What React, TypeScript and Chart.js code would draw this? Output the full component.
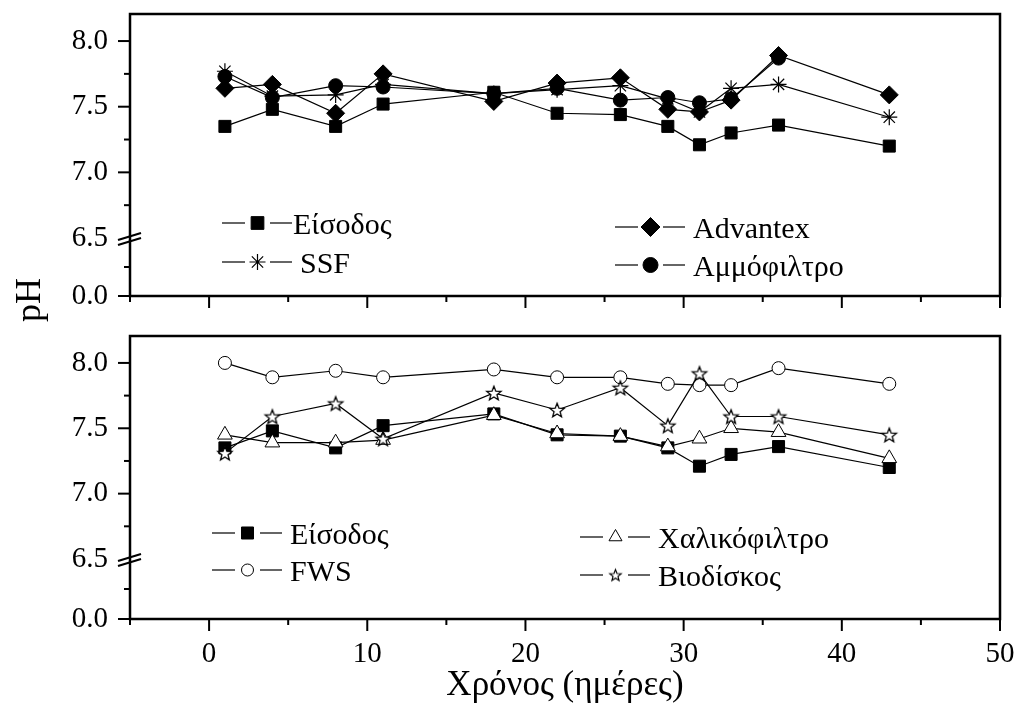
import React, { useEffect, useRef } from 'react';
import { Chart, registerables } from 'chart.js';
import { drawPoint } from 'chart.js/helpers';
Chart.register(...registerables);

// ---------- data ----------
const days = [1, 4, 8, 11, 18, 22, 26, 29, 31, 33, 36, 43];
const eisodos = [7.35, 7.48, 7.35, 7.52, 7.61, 7.45, 7.44, 7.35, 7.21, 7.3, 7.36, 7.2];
const advantex = [7.64, 7.67, 7.45, 7.75, 7.54, 7.68, 7.72, 7.48, 7.46, 7.55, 7.89, 7.59];
const ssf = [7.77, 7.58, 7.59, 7.67, 7.6, 7.63, 7.66, 7.56, 7.46, 7.64, 7.67, 7.42];
const ammofiltro = [7.73, 7.57, 7.66, 7.65, 7.6, 7.64, 7.55, 7.57, 7.53, 7.56, 7.87];
const fws = [8.0, 7.89, 7.94, 7.89, 7.95, 7.89, 7.89, 7.84, 7.83, 7.83, 7.96, 7.84];
const chalikofiltro = [7.45, 7.39, 7.39, 7.41, 7.6, 7.46, 7.44, 7.36, 7.42, 7.5, 7.47, 7.27];
const viodiskos = [7.31, 7.59, 7.69, 7.42, 7.77, 7.64, 7.81, 7.52, 7.92, 7.59, 7.59, 7.45];

const xMajorTicks = [0, 10, 20, 30, 40, 50];
const xMinorTicks = [-5, 5, 15, 25, 35, 45];
const yUpperLabelTicks = [6.5, 7.0, 7.5, 8.0];
const yUpperMinorTicks = [6.75, 7.25, 7.75];
const yLowerLabelTicks = [0.0];
const yLowerMinorTicks = [3.25];
const xMin = -5;
const xMax = 50;
const yBreak = 6.5;
const yTop = 8.206;
const xTitle = 'Χρόνος (ημέρες)';
const yTitle = 'pH';

const FONT = '"Liberation Serif", "Times New Roman", Times, serif';

function makeStar(outer: number, inner: number, lw: number) {
  const size = Math.ceil(outer * 2 + lw * 2 + 2);
  const c = document.createElement('canvas');
  c.width = size;
  c.height = size;
  const ctx = c.getContext('2d')!;
  const cx = size / 2;
  const cy = size / 2 + outer * 0.1;
  ctx.beginPath();
  for (let i = 0; i < 10; i++) {
    const r = i % 2 === 0 ? outer : inner;
    const a = -Math.PI / 2 + (i * Math.PI) / 5;
    const px = cx + r * Math.cos(a);
    const py = cy + r * Math.sin(a);
    if (i === 0) ctx.moveTo(px, py);
    else ctx.lineTo(px, py);
  }
  ctx.closePath();
  ctx.fillStyle = '#fff';
  ctx.fill();
  ctx.lineWidth = lw;
  ctx.strokeStyle = '#000';
  ctx.stroke();
  return c;
}

type SeriesCfg = {
  label: string;
  values: number[];
  style: any;
  radius: number;
  fill: string;
  bw: number;
  order: number;
  legendStyle: any;
  legendRadius: number;
  lx: number;
  ly: number;
  textGap: number;
};

type PanelCfg = {
  top: number;
  height: number;
  padTop: number;
  xHeight: number;
  upperWeight: number;
  lowerWeight: number;
  showX: boolean;
  series: SeriesCfg[];
};

function framePlugin(cfg: PanelCfg) {
  return {
    id: 'frameAndLegend',
    afterDatasetsDraw(chart: any) {
      const ctx = chart.ctx as CanvasRenderingContext2D;
      const a = chart.chartArea;
      const yU = chart.scales.y;
      const yL = chart.scales.yLow;
      const xs = chart.scales.x;
      ctx.save();
      ctx.strokeStyle = '#000';
      ctx.lineCap = 'butt';
      const line = (x1: number, y1: number, x2: number, y2: number) => {
        ctx.beginPath();
        ctx.moveTo(x1, y1);
        ctx.lineTo(x2, y2);
        ctx.stroke();
      };
      ctx.lineWidth = 2;
      yUpperLabelTicks.forEach((v) => {
        if (v === yBreak) return;
        const p = yU.getPixelForValue(v);
        line(a.left - 12, p, a.left, p);
      });
      yUpperMinorTicks.forEach((v) => {
        const p = yU.getPixelForValue(v);
        line(a.left - 6, p, a.left, p);
      });
      yLowerLabelTicks.forEach((v) => {
        const p = yL.getPixelForValue(v);
        line(a.left - 12, p, a.left, p);
      });
      yLowerMinorTicks.forEach((v) => {
        const p = yL.getPixelForValue(v);
        line(a.left - 6, p, a.left, p);
      });
      xMajorTicks.forEach((v) => {
        const p = xs.getPixelForValue(v);
        line(p, a.bottom, p, a.bottom + 12);
      });
      xMinorTicks.forEach((v) => {
        const p = xs.getPixelForValue(v);
        line(p, a.bottom, p, a.bottom + 6);
      });
      ctx.lineWidth = 2.5;
      ctx.strokeRect(a.left, a.top, a.right - a.left, a.bottom - a.top);
      // axis break marks
      const pb = yU.getPixelForValue(yBreak);
      ctx.lineWidth = 2.2;
      line(a.left - 12, pb + 2, a.left + 11, pb - 5);
      line(a.left - 12, pb + 7, a.left + 11, pb);

      // legend
      cfg.series.forEach((s) => {
        const y = s.ly - cfg.top;
        const x0 = s.lx;
        ctx.strokeStyle = '#000';
        ctx.lineWidth = 1.2;
        line(x0, y, x0 + 23, y);
        line(x0 + 48, y, x0 + 70, y);
        ctx.fillStyle = s.fill;
        ctx.strokeStyle = '#000';
        ctx.lineWidth = s.bw;
        drawPoint(ctx, { pointStyle: s.legendStyle, radius: s.legendRadius, rotation: 0, borderWidth: s.bw } as any, x0 + 35.5, y);
        ctx.fillStyle = '#000';
        ctx.font = `30px ${FONT}`;
        ctx.textBaseline = 'alphabetic';
        ctx.textAlign = 'left';
        ctx.fillText(s.label, x0 + s.textGap, y + 10.5);
      });
      ctx.restore();
    },
  };
}

function Panel({ cfg }: { cfg: PanelCfg }) {
  const ref = useRef<HTMLCanvasElement | null>(null);
  useEffect(() => {
    if (!ref.current) return;
    const datasets = cfg.series.map((s) => ({
      label: s.label,
      data: s.values.map((v, i) => ({ x: days[i], y: v })),
      yAxisID: 'y',
      borderColor: '#000',
      borderWidth: 1.2,
      pointStyle: s.style,
      pointRadius: s.radius,
      pointHoverRadius: s.radius,
      pointBackgroundColor: s.fill,
      pointBorderColor: '#000',
      pointBorderWidth: s.bw,
      tension: 0,
      fill: false,
      order: s.order,
    }));
    const yFont = { family: FONT, size: 29 };
    const noPadY = (s: any) => {
      s.width = 130;
      s.paddingTop = 0;
      s.paddingBottom = 0;
    };
    const chart = new Chart(ref.current, {
      type: 'line',
      data: { datasets },
      plugins: [framePlugin(cfg)],
      options: {
        animation: false,
        responsive: false,
        events: [],
        layout: { padding: { top: cfg.padTop, right: 17, left: 0, bottom: 0 } },
        plugins: { legend: { display: false }, tooltip: { enabled: false } },
        scales: {
          x: {
            type: 'linear',
            min: xMin,
            max: xMax,
            afterBuildTicks: (s: any) => {
              s.ticks = xMajorTicks.map((v) => ({ value: v }));
            },
            afterFit: (s: any) => {
              s.height = cfg.xHeight;
              s.paddingLeft = 0;
              s.paddingRight = 0;
            },
            grid: { display: false, drawTicks: false },
            border: { display: false },
            ticks: {
              display: cfg.showX,
              color: '#000',
              font: yFont,
              padding: 18,
              maxRotation: 0,
              callback: (v: any) => String(v),
            },
            title: {
              display: cfg.showX,
              text: xTitle,
              color: '#000',
              font: { family: FONT, size: 35 },
              padding: { top: 0, bottom: 2 },
            },
          },
          yLow: {
            type: 'linear',
            position: 'left',
            stack: 'ph',
            stackWeight: cfg.lowerWeight,
            min: 0,
            max: yBreak,
            afterBuildTicks: (s: any) => {
              s.ticks = yLowerLabelTicks.map((v) => ({ value: v }));
            },
            afterFit: noPadY,
            grid: { display: false, drawTicks: false },
            border: { display: false },
            ticks: { color: '#000', font: yFont, padding: 22, callback: (v: any) => Number(v).toFixed(1) },
          },
          y: {
            type: 'linear',
            position: 'left',
            stack: 'ph',
            stackWeight: cfg.upperWeight,
            min: yBreak,
            max: yTop,
            afterBuildTicks: (s: any) => {
              s.ticks = yUpperLabelTicks.map((v) => ({ value: v }));
            },
            afterFit: noPadY,
            grid: { display: false, drawTicks: false },
            border: { display: false },
            ticks: { color: '#000', font: yFont, padding: 22, callback: (v: any) => Number(v).toFixed(1) },
          },
        },
      } as any,
    });
    return () => chart.destroy();
  }, [cfg]);
  return (
    <div style={{ position: 'absolute', left: 0, top: cfg.top, width: 1017, height: cfg.height }}>
      <canvas ref={ref} width={1017} height={cfg.height} style={{ width: 1017, height: cfg.height, display: 'block' }} />
    </div>
  );
}

const starData = makeStar(7.5, 3.2, 1.3);
const starLegend = makeStar(6, 2.6, 1.2);

const topCfg: PanelCfg = {
  top: 0,
  height: 320,
  padTop: 14,
  xHeight: 24,
  upperWeight: 224,
  lowerWeight: 58,
  showX: false,
  series: [
    { label: 'Είσοδος', values: eisodos, style: 'rect', radius: 8.5, fill: '#000', bw: 1, order: 1, legendStyle: 'rect', legendRadius: 9, lx: 222, ly: 223, textGap: 71 },
    { label: 'Advantex', values: advantex, style: 'rectRot', radius: 9, fill: '#000', bw: 1, order: 2, legendStyle: 'rectRot', legendRadius: 9.5, lx: 615, ly: 227, textGap: 78 },
    { label: 'SSF', values: ssf, style: 'star', radius: 8, fill: '#000', bw: 1.2, order: 3, legendStyle: 'star', legendRadius: 8, lx: 222, ly: 262, textGap: 78 },
    { label: 'Αμμόφιλτρο', values: ammofiltro, style: 'circle', radius: 7, fill: '#000', bw: 1, order: 4, legendStyle: 'circle', legendRadius: 7.5, lx: 615, ly: 265, textGap: 78 },
  ],
};

const bottomCfg: PanelCfg = {
  top: 320,
  height: 389,
  padTop: 16,
  xHeight: 90,
  upperWeight: 223,
  lowerWeight: 60,
  showX: true,
  series: [
    { label: 'Είσοδος', values: eisodos, style: 'rect', radius: 8.5, fill: '#000', bw: 1, order: 4, legendStyle: 'rect', legendRadius: 8.5, lx: 212, ly: 533, textGap: 78 },
    { label: 'Χαλικόφιλτρο', values: chalikofiltro, style: 'triangle', radius: 8.5, fill: '#fff', bw: 1, order: 3, legendStyle: 'triangle', legendRadius: 7.5, lx: 580, ly: 537, textGap: 78 },
    { label: 'FWS', values: fws, style: 'circle', radius: 6.5, fill: '#fff', bw: 1, order: 2, legendStyle: 'circle', legendRadius: 6, lx: 212, ly: 570, textGap: 78 },
    { label: 'Βιοδίσκος', values: viodiskos, style: starData, radius: 7.5, fill: '#fff', bw: 1, order: 1, legendStyle: starLegend, legendRadius: 6, lx: 580, ly: 575, textGap: 78 },
  ],
};

export default function App() {
  return (
    <div style={{ position: 'fixed', left: 0, top: 0, width: 1017, height: 709, background: '#fff', overflow: 'hidden' }}>
      <Panel cfg={topCfg} />
      <Panel cfg={bottomCfg} />
      <div
        style={{
          position: 'absolute',
          left: 28 - 50,
          top: 300 - 20,
          width: 100,
          height: 40,
          lineHeight: '40px',
          textAlign: 'center',
          fontFamily: FONT,
          fontSize: 36,
          color: '#000',
          transform: 'rotate(-90deg)',
        }}
      >
        {yTitle}
      </div>
    </div>
  );
}
